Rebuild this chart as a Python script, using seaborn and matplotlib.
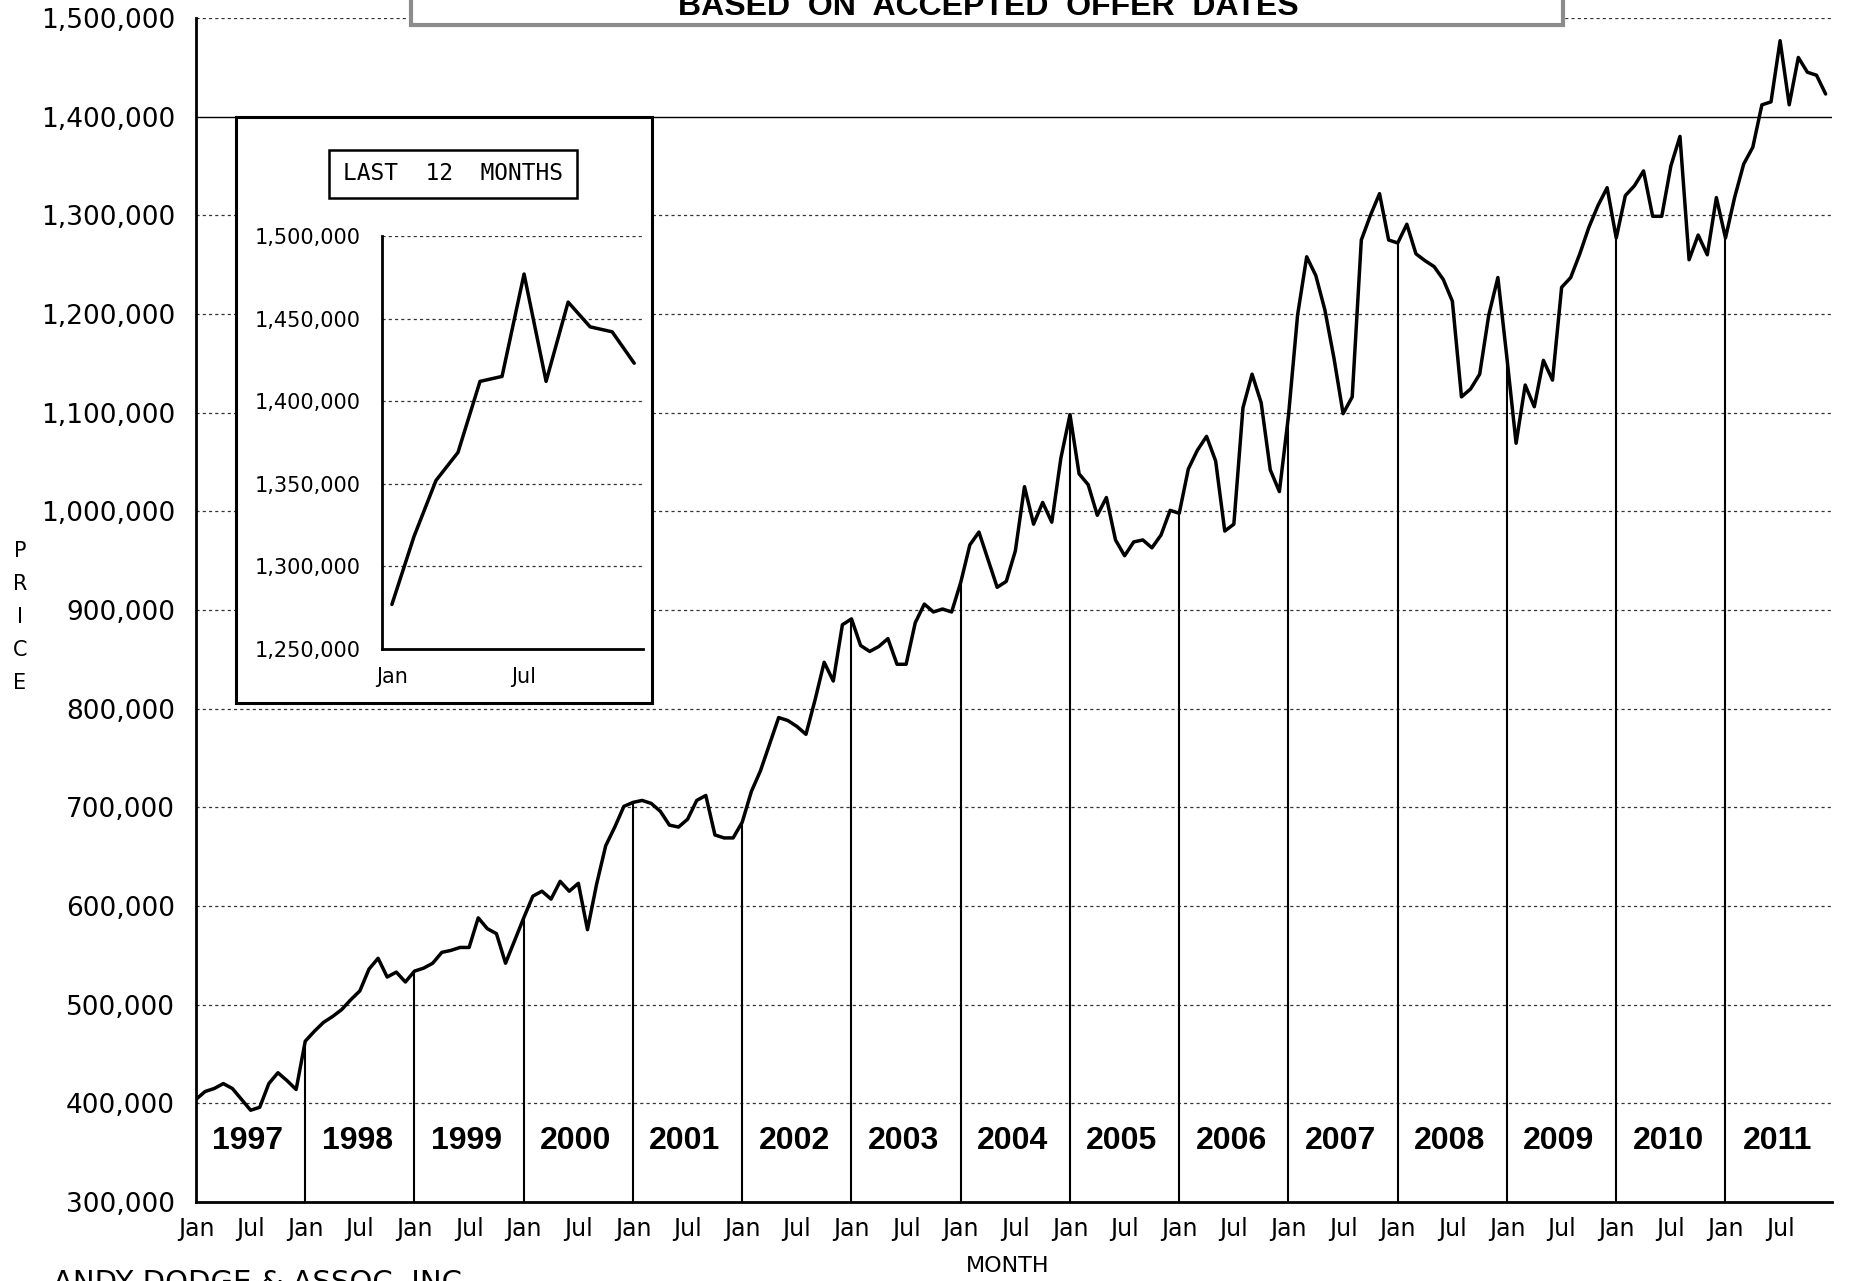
import numpy as np
import pandas as pd
import matplotlib
matplotlib.use("Agg")
import matplotlib.pyplot as plt
import seaborn as sns
from matplotlib.ticker import FuncFormatter
from matplotlib.patches import Rectangle

# ==========================================
# Data (monthly price, Jan 1997 .. Dec 2011)
# ==========================================

years = list(range(1997, 2012))
tick_names = ["Jan", "Jul"]

p1997 = [404, 412, 415, 420, 415, 404, 393, 396, 420, 431, 423, 414]
p1998 = [463, 473, 482, 488, 495, 505, 514, 536, 547, 528, 533, 523]
p1999 = [534, 537, 542, 553, 555, 558, 558, 588, 577, 572, 542, 565]
p2000 = [588, 610, 615, 607, 625, 615, 623, 576, 622, 661, 680, 701]
p2001 = [705, 707, 704, 696, 682, 680, 688, 707, 712, 672, 669, 669]
p2002 = [685, 716, 737, 764, 791, 788, 782, 774, 809, 847, 828, 885]
p2003 = [891, 864, 858, 863, 871, 845, 845, 887, 906, 898, 901, 898]
p2004 = [928, 966, 979, 951, 923, 929, 960, 1025, 987, 1009, 989, 1054]
p2005 = [1098, 1038, 1027, 996, 1014, 971, 955, 969, 971, 963, 976, 1001]
p2006 = [998, 1043, 1062, 1076, 1051, 980, 987, 1105, 1139, 1110, 1042, 1020]
p2007 = [1097, 1199, 1258, 1239, 1204, 1155, 1099, 1116, 1275, 1300, 1322, 1275]
p2008 = [1272, 1291, 1261, 1254, 1248, 1235, 1213, 1116, 1124, 1139, 1199, 1237]
p2009 = [1155, 1069, 1128, 1106, 1153, 1133, 1227, 1237, 1261, 1288, 1310, 1328]
p2010 = [1277, 1320, 1330, 1345, 1299, 1299, 1350, 1380, 1255, 1280, 1260, 1318]
p2011 = [1277, 1318, 1352, 1369, 1412, 1415, 1477, 1412, 1460, 1445, 1442, 1423]

yearly = [p1997, p1998, p1999, p2000, p2001, p2002, p2003, p2004,
          p2005, p2006, p2007, p2008, p2009, p2010, p2011]

prices = [v * 1000 for yr in yearly for v in yr]

df = pd.DataFrame({"month": np.arange(len(prices)), "price": prices})

last12 = df.tail(12).reset_index(drop=True)
last12["month"] = np.arange(12)

W, H = 1851, 1281

def fx(px):
    return px / W

def fy(py):
    return 1 - py / H

# ==========================================
# Style
# ==========================================

sns.set_style("white")
plt.rcParams["font.family"] = ["DejaVu Sans"]
plt.rcParams["text.color"] = "black"
plt.rcParams["xtick.color"] = "black"
plt.rcParams["ytick.color"] = "black"
plt.rcParams["axes.labelcolor"] = "black"

fmt = FuncFormatter(lambda v, p: f"{v:,.0f}")

fig = plt.figure(figsize=(W / 100, H / 100), dpi=100)

# ==========================================
# Main chart
# ==========================================

ax = fig.add_axes([fx(196), fy(1202), fx(1832) - fx(196), fy(18) - fy(1202)])

y_grid = list(range(400000, 1500001, 100000))
for g in y_grid:
    if g == 1400000:
        ax.axhline(g, color="black", lw=1.0, zorder=0)
    else:
        ax.axhline(g, color="#333333", lw=0.9, ls=(0, (2.5, 2.5)), zorder=0)

jan_idx = list(range(12, len(prices), 12))
ax.vlines(jan_idx, 300000, [prices[i] for i in jan_idx],
          color="black", lw=1.5, zorder=2)

sns.lineplot(data=df, x="month", y="price", ax=ax,
             color="black", lw=2.5, zorder=3)

for k, yr in enumerate(years):
    ax.text(12 * k + 5.7, 362000, str(yr), ha="center", va="center",
            fontsize=23, fontweight="bold", family="Liberation Sans",
            color="black")

ax.set_xlim(0, 179.7)
ax.set_ylim(300000, 1500000)

ax.set_xticks(range(0, 180, 6))
ax.set_xticklabels(tick_names * 15)
ax.set_xticks(range(0, 180), minor=True)
ax.set_yticks(range(300000, 1500001, 100000))
ax.yaxis.set_major_formatter(fmt)

ax.tick_params(axis="x", which="major", direction="out", length=7,
               width=1.2, labelsize=17, pad=4, colors="black")
ax.tick_params(axis="x", which="minor", direction="out", length=5,
               width=1.2, colors="black")
ax.tick_params(axis="y", direction="out", length=9, width=1.5,
               labelsize=19, pad=6, colors="black")

ax.set_xlabel("")
ax.set_ylabel("")
for s in ["top", "right"]:
    ax.spines[s].set_visible(False)
for s in ["left", "bottom"]:
    ax.spines[s].set_color("black")
    ax.spines[s].set_linewidth(2)

# ==========================================
# Title box (cut by the top edge, as in the original)
# ==========================================

fig.patches.append(Rectangle((fx(411), fy(25)), fx(1563) - fx(411), 0.06,
                             transform=fig.transFigure, facecolor="white",
                             edgecolor="#8c8c8c", lw=3, zorder=2))
fig.text(fx(988), fy(15), "BASED  ON  ACCEPTED  OFFER  DATES",
         ha="center", va="baseline", fontsize=23, fontweight="bold",
         family="Liberation Sans", zorder=4)

# ==========================================
# Inset: last 12 months
# ==========================================

fig.patches.append(Rectangle((fx(236), fy(703)), fx(652) - fx(236),
                             fy(117) - fy(703), transform=fig.transFigure,
                             facecolor="white", edgecolor="black", lw=2.2,
                             zorder=2))
fig.patches.append(Rectangle((fx(329), fy(198)), fx(577) - fx(329),
                             fy(150) - fy(198), transform=fig.transFigure,
                             facecolor="white", edgecolor="black", lw=1.8,
                             zorder=3))
fig.text(fx(453), fy(174), "LAST  12  MONTHS", ha="center", va="center",
         fontsize=16.5, family="DejaVu Sans Mono", zorder=4)

ax2 = fig.add_axes([fx(382), fy(649), fx(643) - fx(382), fy(236) - fy(649)])
ax2.set_zorder(5)
ax2.patch.set_alpha(0)

for g in range(1300000, 1500001, 50000):
    ax2.axhline(g, color="#333333", lw=0.9, ls=(0, (2.5, 2.5)), zorder=0)

sns.lineplot(data=last12, x="month", y="price", ax=ax2,
             color="black", lw=2.5, zorder=3)

ax2.set_xlim(-0.45, 11.4)
ax2.set_ylim(1250000, 1500000)
ax2.set_xticks(range(12))
ax2.set_xticklabels(["Jan", "", "", "", "", "", "Jul", "", "", "", "", ""])
ax2.set_yticks(range(1250000, 1500001, 50000))
ax2.yaxis.set_major_formatter(fmt)
ax2.tick_params(axis="x", direction="out", length=11, width=1.5,
                labelsize=15, pad=2, colors="black")
ax2.tick_params(axis="y", direction="out", length=11, width=1.5,
                labelsize=15, pad=4, colors="black")
ax2.set_xlabel("")
ax2.set_ylabel("")
for s in ["top", "right"]:
    ax2.spines[s].set_visible(False)
for s in ["left", "bottom"]:
    ax2.spines[s].set_color("black")
    ax2.spines[s].set_linewidth(2)

# ==========================================
# Outer labels
# ==========================================

for i, ch in enumerate("PRICE"):
    fig.text(fx(20), fy(551 + 33 * i), ch, ha="center", va="center",
             fontsize=15)

fig.text(fx(1008), fy(1266), "MONTH", ha="center", va="center", fontsize=16)

# company line sits partly below the bottom edge, as in the original
fig.text(fx(53), fy(1291), "ANDY DODGE & ASSOC. INC.", ha="left",
         va="baseline", fontsize=21)

fig.savefig("out.png", dpi=100)
